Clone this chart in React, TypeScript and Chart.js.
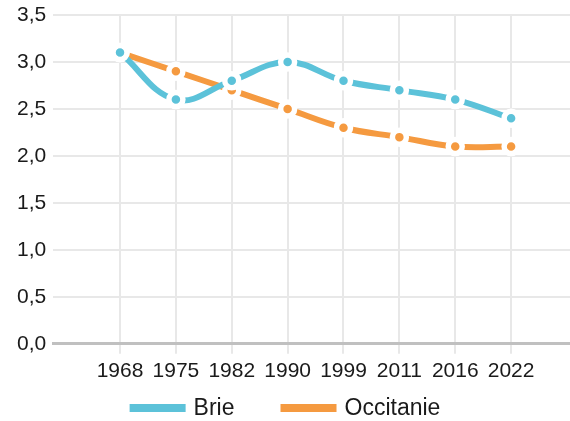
import React, { useEffect, useRef } from "react";
import { Chart, registerables } from "chart.js";

Chart.register(...registerables);

const years = ["1968", "1975", "1982", "1990", "1999", "2011", "2016", "2022"];
const brie = [3.1, 2.6, 2.8, 3.0, 2.8, 2.7, 2.6, 2.4];
const occitanie = [3.1, 2.9, 2.7, 2.5, 2.3, 2.2, 2.1, 2.1];
const seriesNames = ["Brie", "Occitanie"];
const seriesColors = ["#5cc2d9", "#f59a40"];
const yTicks = [0, 0.5, 1, 1.5, 2, 2.5, 3, 3.5];

const FONT = "'Liberation Sans', Arial, sans-serif";

const legendPlugin = {
  id: "customLegend",
  afterDraw(chart: any) {
    const ctx = chart.ctx;
    const ds = chart.data.datasets;
    const boxW = 56;
    const boxH = 8;
    const gap = 8;
    const spacing = 46;
    ctx.save();
    ctx.font = `23px ${FONT}`;
    const widths = ds.map((d: any) => boxW + gap + ctx.measureText(d.label).width);
    const total = widths.reduce((a: number, b: number) => a + b, 0) + spacing * (ds.length - 1);
    let x = (chart.width - total) / 2;
    const y = 408;
    ds.forEach((d: any, i: number) => {
      ctx.fillStyle = d.borderColor;
      ctx.fillRect(x, y - boxH / 2, boxW, boxH);
      ctx.fillStyle = "#1a1a1a";
      ctx.textBaseline = "middle";
      ctx.textAlign = "left";
      ctx.fillText(d.label, x + boxW + gap, y + 1);
      x += widths[i] + spacing;
    });
    ctx.restore();
  },
};

export default function App() {
  const ref = useRef<HTMLCanvasElement | null>(null);
  useEffect(() => {
    if (!ref.current) return;
    const mk = (vals: number[], i: number) => ({
      label: seriesNames[i],
      data: vals.map((v, k) => ({ x: k, y: v })),
      borderColor: seriesColors[i],
      backgroundColor: seriesColors[i],
      borderWidth: 6,
      tension: 0.4,
      pointRadius: 7,
      pointHoverRadius: 7,
      pointBorderWidth: 5.5,
      pointBorderColor: "#ffffff",
      pointBackgroundColor: seriesColors[i],
      fill: false,
    });
    const chart = new Chart(ref.current, {
      type: "line",
      data: { datasets: [mk(brie, 0), mk(occitanie, 1)] },
      options: {
        animation: false,
        responsive: false,
        layout: { autoPadding: false, padding: { left: 10, right: 0, top: 15, bottom: 32 } },
        plugins: { legend: { display: false }, tooltip: { enabled: false } },
        scales: {
          x: {
            type: "linear",
            min: -1.196,
            max: 8.054,
            afterBuildTicks: (scale: any) => {
              scale.ticks = years.map((_, i) => ({ value: i }));
            },
            afterFit: (scale: any) => {
              scale.paddingLeft = 0;
              scale.paddingRight = 0;
            },
            ticks: {
              autoSkip: false,
              maxRotation: 0,
              padding: 5,
              color: "#1a1a1a",
              font: { family: FONT, size: 21 },
              callback: (v: any) => years[v] ?? "",
            },
            grid: { color: "#e8e8e8", lineWidth: 2, tickLength: 10, drawTicks: true },
            border: { display: true, color: "#c0c0c0", width: 3 },
          },
          y: {
            min: 0,
            max: 3.5,
            afterBuildTicks: (scale: any) => {
              scale.ticks = yTicks.map((v) => ({ value: v }));
            },
            afterFit: (scale: any) => {
              scale.paddingTop = 0;
              scale.paddingBottom = 0;
            },
            ticks: {
              padding: 7,
              color: "#1a1a1a",
              font: { family: FONT, size: 21 },
              callback: (v: any) => Number(v).toFixed(1).replace(".", ","),
            },
            grid: { color: "#e8e8e8", lineWidth: 2, drawTicks: false },
            border: { display: false },
          },
        },
      },
      plugins: [legendPlugin],
    });
    return () => chart.destroy();
  }, []);
  return (
    <div style={{ position: "absolute", left: 0, top: 0, width: 570, height: 421 }}>
      <canvas ref={ref} width={570} height={421} />
    </div>
  );
}
